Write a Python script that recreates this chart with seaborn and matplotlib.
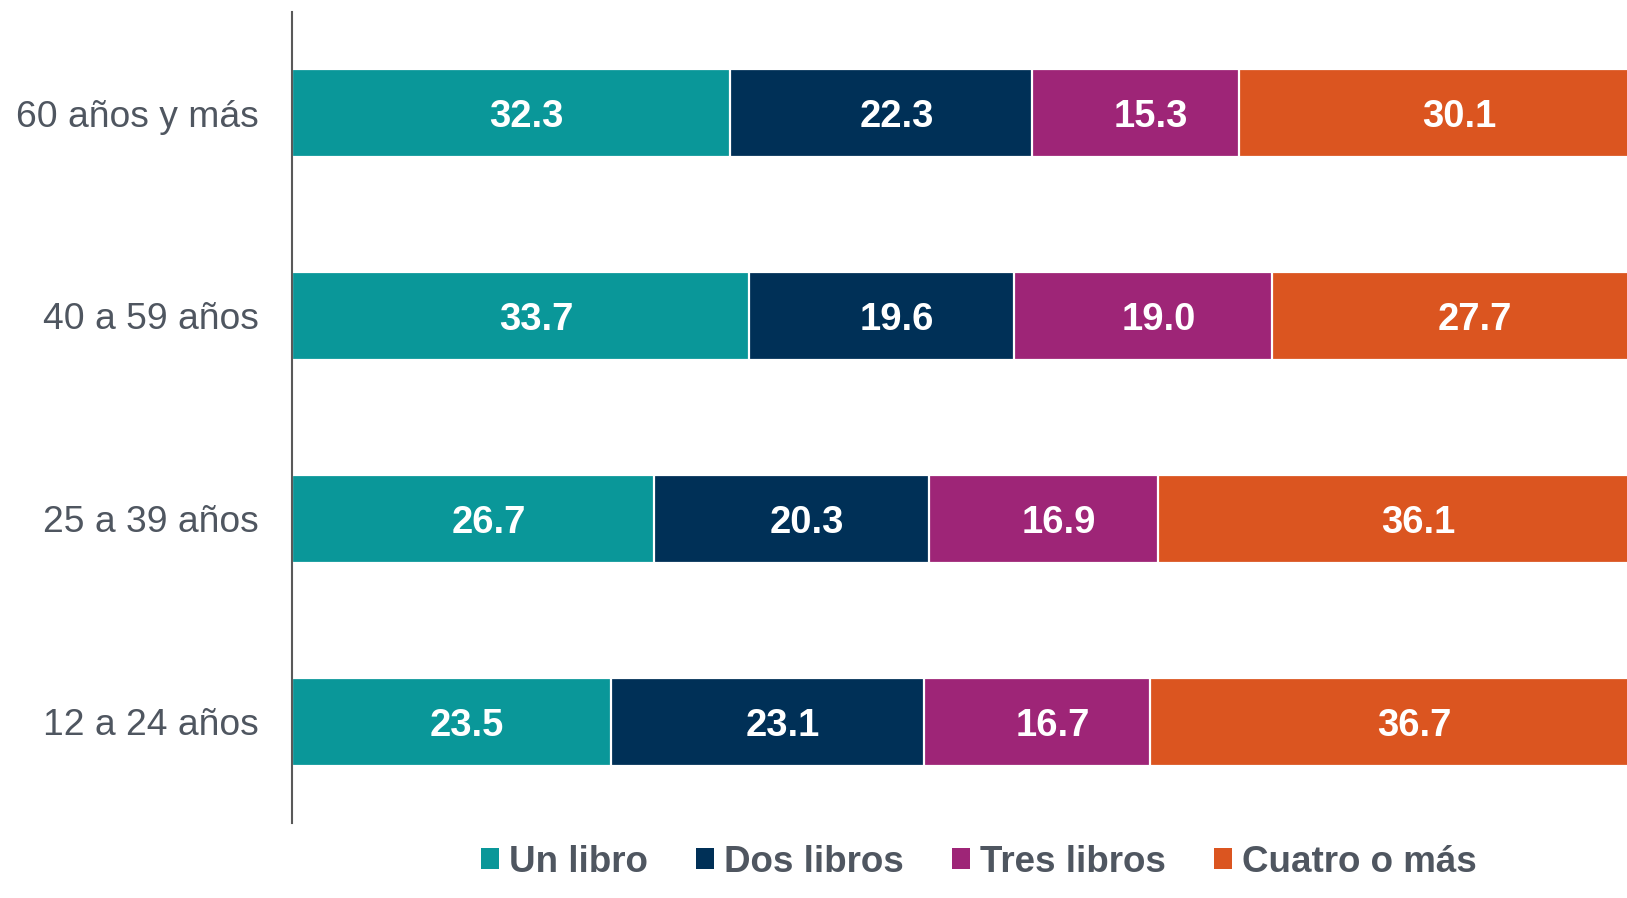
import pandas as pd
import matplotlib.pyplot as plt
import seaborn as sns
from matplotlib.patches import Patch

# data (percent of readers by number of books)
grupos = ["60 años y más", "40 a 59 años", "25 a 39 años", "12 a 24 años"]
series = ["Un libro", "Dos libros", "Tres libros", "Cuatro o más"]
un_libro = [32.3, 33.7, 26.7, 23.5]
dos_libros = [22.3, 19.6, 20.3, 23.1]
tres_libros = [15.3, 19.0, 16.9, 16.7]
cuatro_o_mas = [30.1, 27.7, 36.1, 36.7]
colores = ["#0A9799", "#003057", "#9E2577", "#DB5520"]

sns.set_style("white")
plt.rcParams["font.family"] = ["Liberation Sans", "DejaVu Sans"]

data = pd.DataFrame({
    "grupo": grupos,
    "Un libro": un_libro,
    "Dos libros": dos_libros,
    "Tres libros": tres_libros,
    "Cuatro o más": cuatro_o_mas,
})

# cumulative totals so the segments can be drawn on top of each other
acum = data[series].cumsum(axis=1)
acum["grupo"] = data["grupo"]

fig = plt.figure(figsize=(16.27, 8.98), dpi=100)
ax = fig.add_axes([0.1795, 0.0835, 0.8205, 0.9036])

for s, c in reversed(list(zip(series, colores))):
    sns.barplot(data=acum, x=s, y="grupo", color=c, width=0.434,
                edgecolor="white", linewidth=1.6, saturation=1, ax=ax)

# value labels in the middle of each segment
for i, g in enumerate(grupos):
    for s in series:
        fin = acum.loc[i, s]
        val = data.loc[i, s]
        ax.text(fin - val / 2 + 1.15, i, f"{val:.1f}", ha="center", va="center_baseline",
                color="white", fontsize=27.5, fontweight="bold")

ax.set_xlim(0, 98.5)
ax.set_ylim(3.5, -0.5)
ax.set_xlabel("")
ax.set_ylabel("")
ax.set_xticks([])
ax.tick_params(axis="y", length=0, pad=24, labelsize=26.8, labelcolor="#4F5660")
for side in ["top", "right", "bottom"]:
    ax.spines[side].set_visible(False)
ax.spines["left"].set_color("#595959")
ax.spines["left"].set_linewidth(1.5)

handles = [Patch(facecolor=c, edgecolor="none", label=s) for s, c in zip(series, colores)]
fig.legend(handles=handles, loc="lower center", bbox_to_anchor=(0.6017, 0.0), ncol=4,
           frameon=False, handlelength=0.5, handleheight=0.5, handletextpad=0.27,
           columnspacing=1.3, borderpad=0,
           prop={"size": 26.5, "weight": "bold"}, labelcolor="#4F5660")

fig.savefig("out.png", dpi=100)
